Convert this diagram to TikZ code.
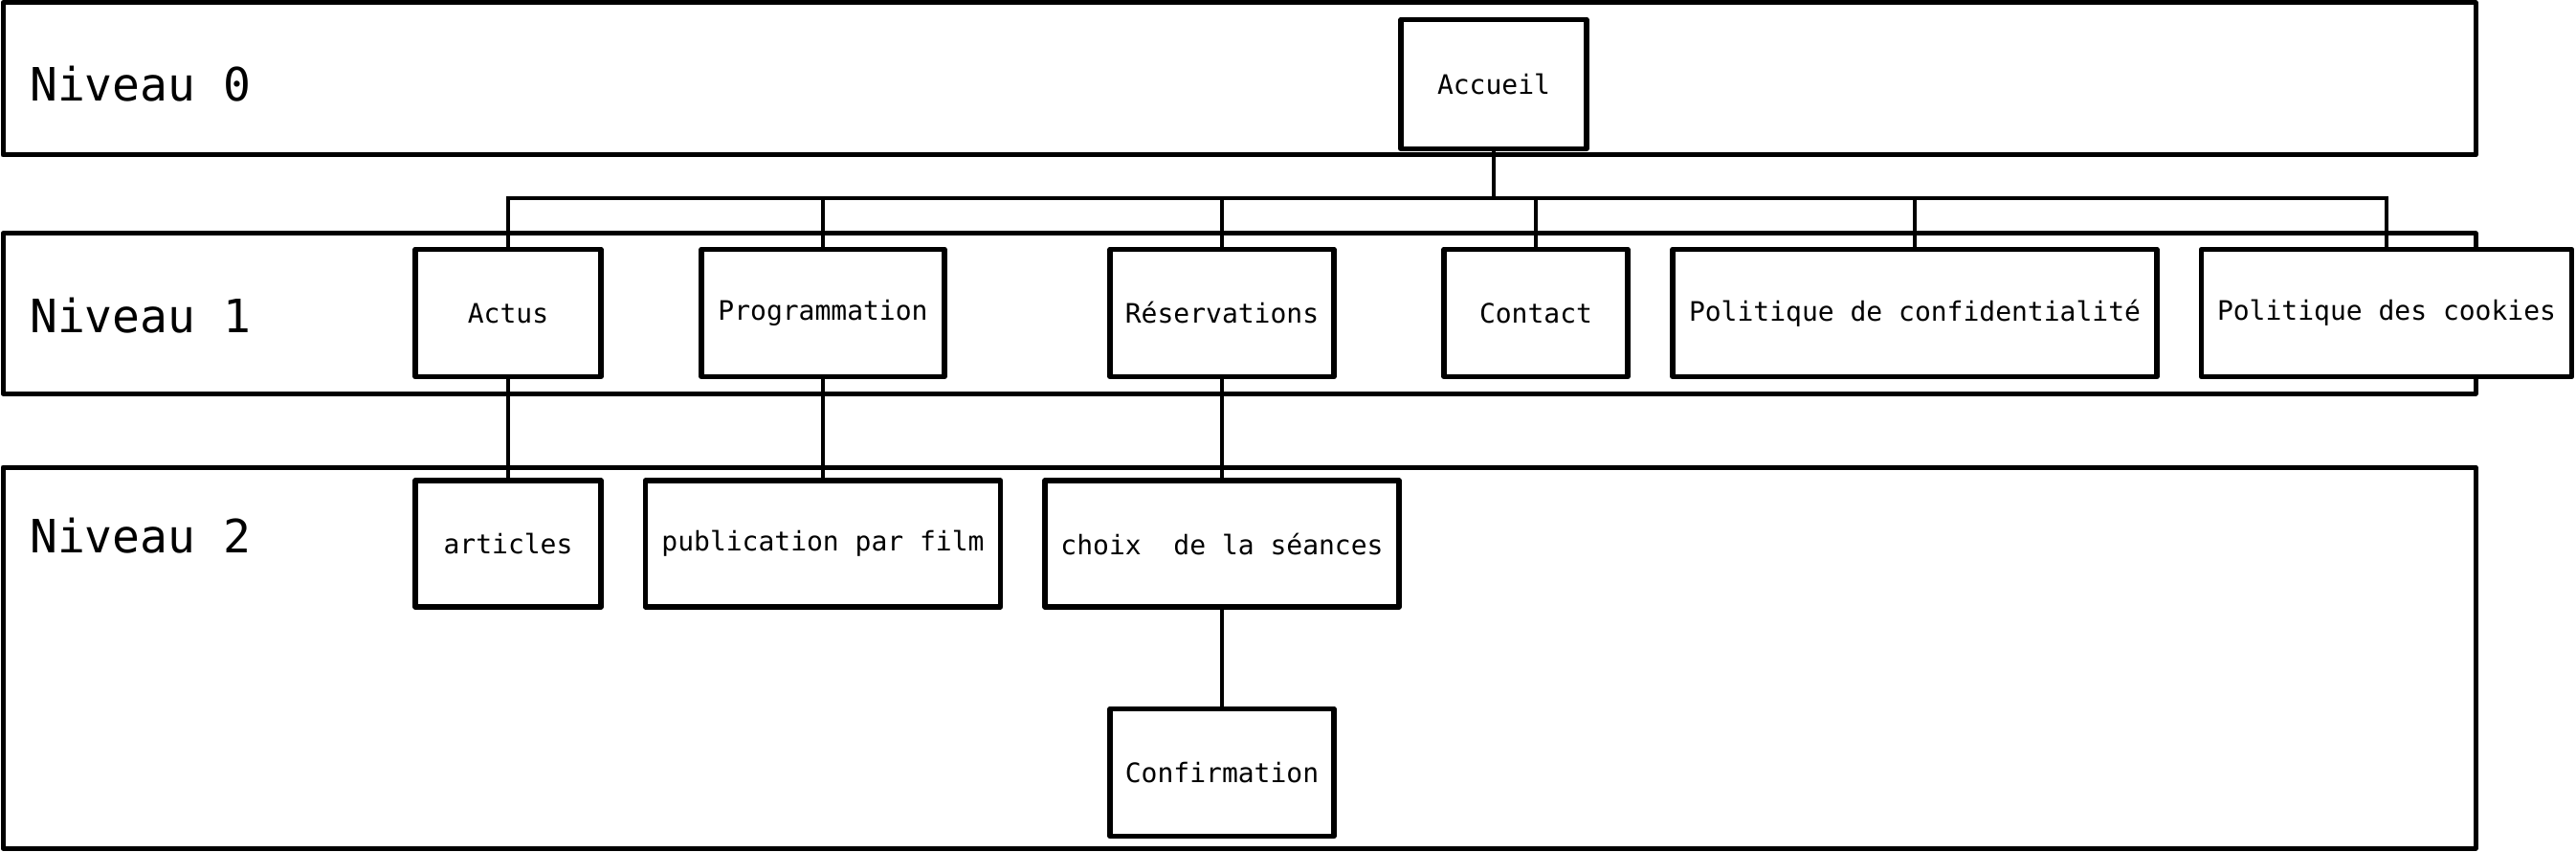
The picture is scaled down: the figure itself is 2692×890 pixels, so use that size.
\documentclass[tikz,border=0pt]{standalone}
\usepackage{fontspec}
\setmonofont{DejaVu Sans Mono}
\begin{document}
\begin{tikzpicture}[x=1pt,y=-1pt,
  band/.style={draw, line width=5pt, line join=round},
  box/.style={draw, line width=5.5pt, line join=round, fill=white, inner sep=0pt,
    minimum height=133pt, font=\ttfamily\fontsize{28}{33}\selectfont},
  lvl/.style={anchor=west, inner sep=0pt, font=\ttfamily\fontsize{48}{56}\selectfont},
  link/.style={line width=3.5pt}]
\useasboundingbox (0,0) rectangle (2692,890);
% bands
\draw[band] (3,3) rectangle (2587,162);
\draw[band] (3,244) rectangle (2587,411);
\draw[band] (3,488) rectangle (2587,886);
\node[lvl] (l0) at (31,88) {Niveau 0};
\node[lvl] (l1) at (31,330) {Niveau 1};
\node[lvl] (l2) at (31,560) {Niveau 2};
\coordinate (bus) at (0,207);
% nodes
\node[box, minimum width=194pt, minimum height=135pt] (acc) at (1561,88) {Accueil};
\node[box, minimum width=194pt] (actus) at (531,327) {Actus};
\node[box, minimum width=254pt] (prog) at (860,327) {Programmation};
\node[box, minimum width=234pt] (res) at (1277,327) {Réservations};
\node[box, minimum width=192pt] (cont) at (1605,327) {Contact};
\node[box, minimum width=506pt] (conf) at (2001,327) {Politique de confidentialité};
\node[box, minimum width=387pt] (cook) at (2494,327) {Politique des cookies};
\node[box, minimum width=194pt, minimum height=132pt] (art) at (531,568) {articles};
\node[box, minimum width=371pt, minimum height=132pt] (pub) at (860,568) {publication par film};
\node[box, minimum width=370pt, minimum height=132pt] (choix) at (1277,568) {choix~ de la séances};
\node[box, minimum width=234pt] (cnf) at (1277,807) {Confirmation};
% connectors
\draw[link] (acc.south) -- (acc.south |- bus);
\draw[link] (actus.north) -- (actus.north |- bus) -- (cook.north |- bus) -- (cook.north);
\draw[link] (prog.north) -- (prog.north |- bus);
\draw[link] (res.north) -- (res.north |- bus);
\draw[link] (cont.north) -- (cont.north |- bus);
\draw[link] (conf.north) -- (conf.north |- bus);
\draw[link] (actus.south) -- (art.north);
\draw[link] (prog.south) -- (pub.north);
\draw[link] (res.south) -- (choix.north);
\draw[link] (choix.south) -- (cnf.north);
\end{tikzpicture}
\end{document}
